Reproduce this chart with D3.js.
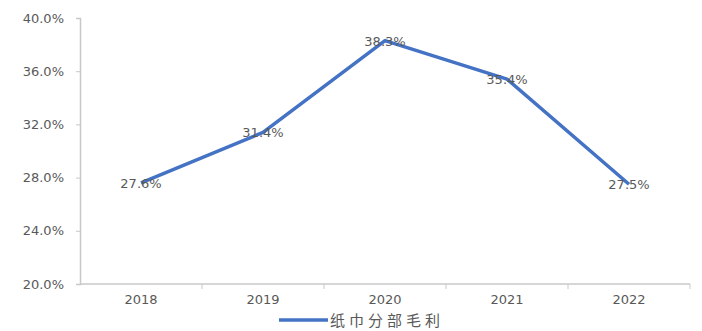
<!DOCTYPE html>
<html>
<head>
<meta charset="utf-8">
<script src="https://cdn.jsdelivr.net/npm/d3@7"></script>
<style>
  body { margin: 0; background: #fff; }
  text { font-family: "DejaVu Sans", "Noto Sans CJK SC", sans-serif; fill: #595959; }
</style>
</head>
<body>
<div class="chart"></div>
<script>
// data
const years = ["2018", "2019", "2020", "2021", "2022"]
const margins = [27.6, 31.4, 38.3, 35.4, 27.5]
const yTicks = [20, 24, 28, 32, 36, 40]
const seriesName = "纸巾分部毛利"

const W = 702, H = 331
const margin = { top: 18, right: 12, bottom: 47, left: 80 }
const width = W - margin.left - margin.right,
    height = H - margin.top - margin.bottom

let svg = d3.select(".chart").append("svg")
    .attr("width", W)
    .attr("height", H)
    .append("g")
    .attr("transform", "translate(" + margin.left + "," + margin.top + ")")

let xScale = d3.scaleBand()
    .domain(years)
    .range([0, width])

let yScale = d3.scaleLinear()
    .domain([20, 40])
    .range([height, 0])

// y axis
let yAxis = d3.axisLeft(yScale)
    .tickValues(yTicks)
    .tickFormat(d => d.toFixed(1) + "%")
    .tickSize(4)
    .tickPadding(12)

let gy = svg.append("g").attr("class", "axis y-axis").call(yAxis)
gy.select(".domain").attr("stroke", "#c8c8c8").attr("stroke-width", 1.5)
gy.selectAll(".tick line").attr("stroke", "#c8c8c8")
gy.selectAll("text").style("font-size", "13px").style("font-family", null)

// x axis: ticks at category boundaries
let gx = svg.append("g")
    .attr("class", "axis x-axis")
    .attr("transform", `translate(0, ${height})`)
gx.append("line")
    .attr("x1", 0).attr("x2", width)
    .attr("stroke", "#c8c8c8").attr("stroke-width", 1.5)
gx.selectAll(".bound")
    .data(years.slice(1).concat(["end"]))
    .join("line")
    .attr("class", "bound")
    .attr("x1", (d, i) => xScale.step() * (i + 1))
    .attr("x2", (d, i) => xScale.step() * (i + 1))
    .attr("y1", 0).attr("y2", 5)
    .attr("stroke", "#c8c8c8")
gx.selectAll(".lab")
    .data(years)
    .join("text")
    .attr("class", "lab")
    .attr("x", d => xScale(d) + xScale.bandwidth() / 2)
    .attr("y", 20)
    .attr("text-anchor", "middle")
    .style("font-size", "13px")
    .text(d => d)

// line
let line = d3.line()
    .x((d, i) => xScale(years[i]) + xScale.bandwidth() / 2)
    .y(d => yScale(d))

svg.append("path")
    .datum(margins)
    .attr("fill", "none")
    .attr("stroke", "#4472c4")
    .attr("stroke-width", 3.5)
    .attr("stroke-linejoin", "round")
    .attr("d", line)

// data labels centred on the points
svg.selectAll(".dlab")
    .data(margins)
    .join("text")
    .attr("class", "dlab")
    .attr("x", (d, i) => xScale(years[i]) + xScale.bandwidth() / 2)
    .attr("y", d => yScale(d) + 5)
    .attr("text-anchor", "middle")
    .style("font-size", "13px")
    .text(d => d.toFixed(1) + "%")

// legend
let lg = svg.append("g").attr("transform", `translate(${199}, ${height + 36})`)
lg.append("line")
    .attr("x1", 0).attr("x2", 49)
    .attr("stroke", "#4472c4").attr("stroke-width", 3.5)
lg.append("text")
    .attr("x", 51).attr("y", 6)
    .style("font-size", "15px")
    .style("letter-spacing", "4px")
    .style("font-family", "'Noto Sans CJK SC', sans-serif")
    .text(seriesName)
</script>
</body>
</html>
